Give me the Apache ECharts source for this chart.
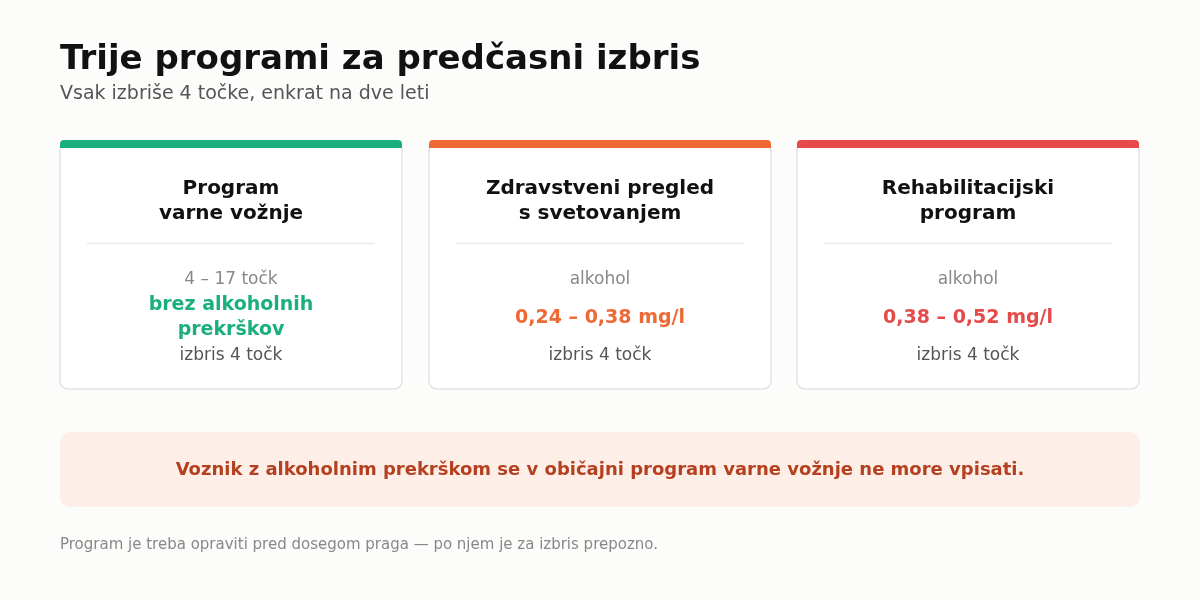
<!DOCTYPE html>
<html><head><meta charset="utf-8">
<script src="https://cdn.jsdelivr.net/npm/echarts@6/dist/echarts.min.js"></script>
<style>html,body{margin:0;background:#fcfcfa}#c{width:1200px;height:600px}</style>
</head><body><div id="c"></div>
<script>
const title = "Trije programi za predčasni izbris";
const subtitle = "Vsak izbriše 4 točke, enkrat na dve leti";
const cardTitles = [["Program","varne vožnje"],["Zdravstveni pregled","s svetovanjem"],["Rehabilitacijski","program"]];
const cardLabels = ["4 – 17 točk","alkohol","alkohol"];
const cardValues = [["brez alkoholnih","prekrškov"],["0,24 – 0,38 mg/l"],["0,38 – 0,52 mg/l"]];
const cardNotes = ["izbris 4 točk","izbris 4 točk","izbris 4 točk"];
const cardColors = ["#1aaf7d","#ee6a35","#e54b4b"];
const banner = "Voznik z alkoholnim prekrškom se v običajni program varne vožnje ne more vpisati.";
const footnote = "Program je treba opraviti pred dosegom praga — po njem je za izbris prepozno.";

const F = "DejaVu Sans";
const g = [];
const txt = (x,y,t,size,color,weight,align) => g.push({type:'text',x,y,style:{text:t,font:`${weight||'normal'} ${size}px "${F}"`,fill:color,textAlign:align||'center',textVerticalAlign:'middle'}});
txt(60,60,title,34,'#111','bold','left');
txt(60,94,subtitle,19,'#555','normal','left');
const xs=[60,429,797], w=342;
cardTitles.forEach((ct,i)=>{
  const x=xs[i], cx=x+w/2;
  g.push({type:'rect',shape:{x,y:141,width:w,height:248,r:8},style:{fill:'#fff',stroke:'#e3e3e3',lineWidth:1.5}});
  g.push({type:'rect',shape:{x,y:140,width:w,height:8,r:[4,4,0,0]},style:{fill:cardColors[i]}});
  txt(cx,189,ct[0],20,'#111','bold'); txt(cx,214,ct[1],20,'#111','bold');
  g.push({type:'line',shape:{x1:x+27,y1:243.5,x2:x+w-27,y2:243.5},style:{stroke:'#ebebeb',lineWidth:1.5}});
  txt(cx,280,cardLabels[i],17,'#888');
  const v=cardValues[i];
  if(v.length===2){txt(cx,305,v[0],19,cardColors[i],'bold');txt(cx,330,v[1],19,cardColors[i],'bold');}
  else txt(cx,318,v[0],19,cardColors[i],'bold');
  txt(cx,356,cardNotes[i],17,'#555');
});
g.push({type:'rect',shape:{x:60,y:432,width:1080,height:75,r:10},style:{fill:'#fdeee7'}});
txt(600,470,banner,18,'#b5401f','bold');
txt(60,545,footnote,15,'#888','normal','left');
const chart=echarts.init(document.getElementById('c'));
chart.setOption({backgroundColor:'#fcfcfa',graphic:g});
</script></body></html>
